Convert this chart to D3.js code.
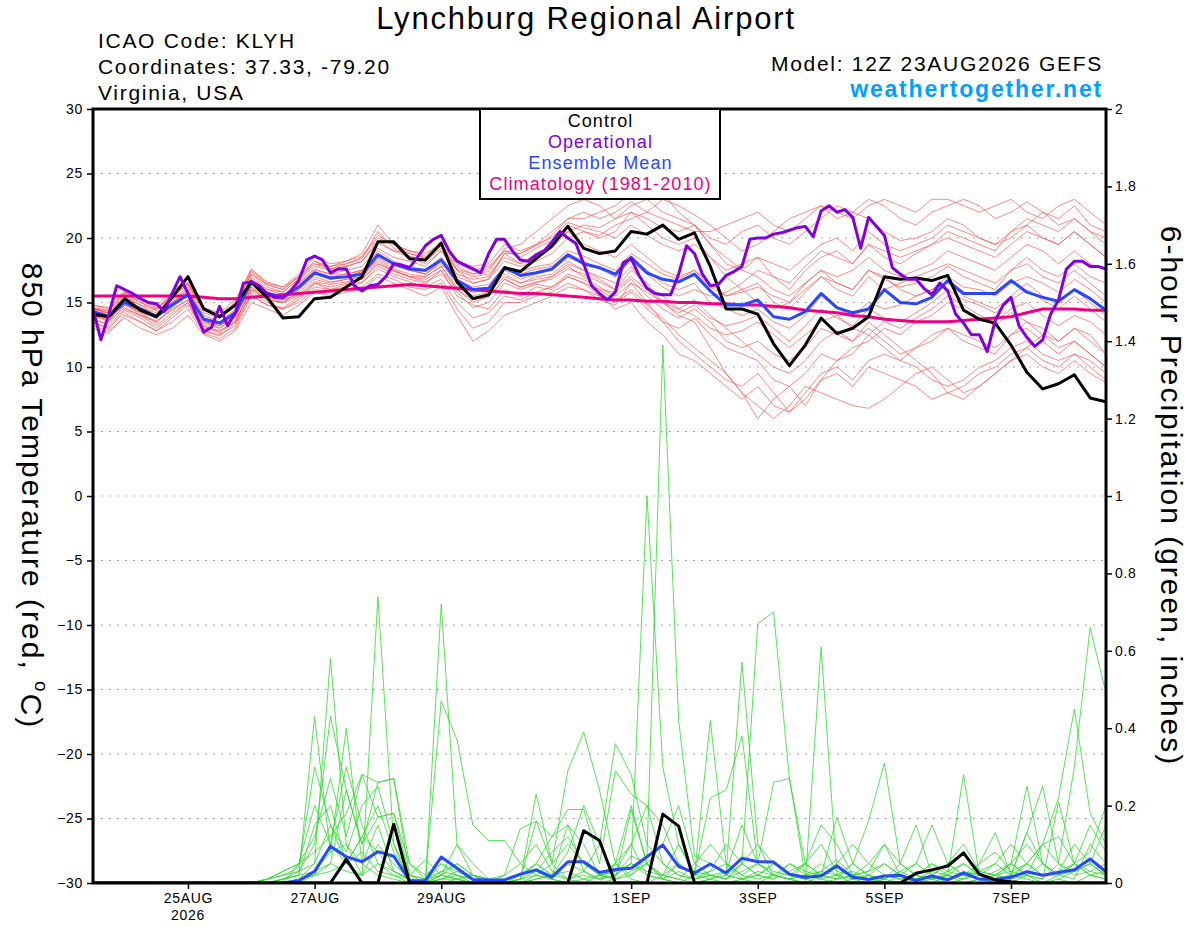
<!DOCTYPE html>
<html>
<head>
<meta charset="utf-8">
<script src="https://cdnjs.cloudflare.com/ajax/libs/d3/7.8.5/d3.min.js"></script>
<style>
  body { margin: 0; background: #fff; }
  svg { font-family: "Liberation Sans", Arial, sans-serif; }
</style>
</head>
<body>
<div id="chart"></div>
<script>
"use strict";

// == DATA ==
// 6-hourly steps from 12Z 23AUG2026 (65 points), operational run is 3-hourly (129 points)
var startTime = Date.UTC(2026, 7, 23, 12);
var endTime = Date.UTC(2026, 8, 8, 12);

var tickDates = [Date.UTC(2026, 7, 25), Date.UTC(2026, 7, 27), Date.UTC(2026, 7, 29),
                 Date.UTC(2026, 8, 1), Date.UTC(2026, 8, 3), Date.UTC(2026, 8, 5), Date.UTC(2026, 8, 7)];
var tickLabels = ["25AUG", "27AUG", "29AUG", "1SEP", "3SEP", "5SEP", "7SEP"];
var tempTicks = [-30, -25, -20, -15, -10, -5, 0, 5, 10, 15, 20, 25, 30];
var precipTicks = [0, 0.2, 0.4, 0.6, 0.8, 1, 1.2, 1.4, 1.6, 1.8, 2];

var control = [14.1,13.9,15.3,14.4,13.9,15.4,17.0,14.5,13.9,14.8,16.6,15.4,13.8,
  13.9,15.3,15.4,16.2,17.0,19.7,19.7,18.4,18.3,19.6,16.6,15.3,15.6,
  17.7,17.4,18.4,19.4,20.9,19.2,18.8,19.0,20.5,20.3,21.0,19.9,20.4,
  17.8,14.5,14.5,14.1,11.8,10.1,11.7,13.8,12.6,13.0,13.9,17.0,16.8,
  16.9,16.7,17.1,14.4,13.7,13.4,11.7,9.6,8.3,8.7,9.4,7.6,7.3];

var ensMean = [14.3,13.9,15.0,14.5,13.9,14.8,15.6,13.7,13.4,14.2,16.6,15.7,15.4,
  16.2,17.3,16.9,17.0,17.2,18.7,18.0,17.6,17.5,18.3,16.7,16.0,16.1,
  17.7,17.1,17.3,17.6,18.7,18.0,17.7,17.2,18.5,17.3,16.8,16.6,17.2,
  15.9,14.8,14.8,15.2,13.9,13.7,14.3,15.7,14.6,14.2,14.5,16.0,15.0,
  14.9,15.4,16.7,15.7,15.7,15.7,16.7,15.8,15.4,15.1,16.0,15.3,14.4];

var climatology = [15.5,15.5,15.5,15.5,15.5,15.5,15.5,15.4,15.3,15.3,15.4,15.5,15.6,
  15.7,15.8,15.9,16.0,16.1,16.2,16.3,16.4,16.3,16.2,16.1,16.0,15.9,
  15.8,15.7,15.7,15.6,15.5,15.4,15.3,15.2,15.2,15.1,15.1,15.0,15.0,
  14.9,14.9,14.8,14.8,14.7,14.6,14.4,14.3,14.2,14.0,13.9,13.7,13.6,
  13.5,13.5,13.5,13.6,13.7,13.8,13.9,14.2,14.5,14.5,14.5,14.4,14.4];

var operational = [14.5,12.1,14.1,16.3,16.0,15.7,15.3,15.0,14.9,14.3,15.7,17.0,15.7,14.1,12.7,13.1,
  14.7,13.2,14.2,16.5,16.6,16.3,15.7,15.4,15.4,15.9,16.7,18.3,18.6,18.3,17.3,17.6,
  17.6,16.3,15.9,16.3,16.4,17.0,18.0,17.9,17.7,18.5,19.4,19.9,20.2,19.0,18.2,17.9,
  17.6,17.3,18.8,19.9,19.9,19.0,18.3,18.2,18.7,19.0,19.7,20.5,20.0,19.6,18.0,16.3,
  15.7,15.2,15.8,18.1,18.4,17.1,16.1,15.7,15.6,15.6,17.2,19.4,18.8,17.2,16.3,16.4,
  17.1,17.4,17.8,19.9,20.0,20.0,20.3,20.4,20.6,20.8,20.9,20.1,22.1,22.5,22.0,22.2,
  21.6,19.2,21.6,20.9,20.2,17.7,17.2,16.8,16.8,16.1,15.6,16.5,15.9,14.1,13.4,12.5,
  12.5,11.2,13.6,14.8,15.4,13.2,12.3,11.6,12.1,14.1,15.2,17.6,18.2,18.2,17.8,17.8,
  17.6];

// ensemble members, 850 hPa temperature
var tempMember01 = [14.0,13.5,15.5,14.8,14.0,15.2,16.2,14.0,13.5,14.5,17.0,16.0,15.8,
  16.8,17.8,17.5,17.8,18.2,19.8,19.0,18.5,18.0,19.0,17.5,17.0,17.2,
  18.5,18.0,18.8,19.5,20.5,21.0,20.8,21.5,22.5,23.0,22.0,21.5,21.0,
  20.0,19.5,20.5,21.0,20.0,19.5,20.5,21.5,22.5,22.0,21.5,20.5,19.8,
  20.0,20.5,21.5,21.0,20.0,19.5,20.0,21.0,22.0,21.5,22.5,21.0,20.5];
var tempMember02 = [14.5,14.2,15.0,14.0,13.5,14.5,15.2,13.2,12.8,13.5,16.0,15.2,15.0,
  15.5,16.5,16.2,16.5,16.8,18.0,17.5,17.0,16.8,17.5,16.0,15.0,15.5,
  16.8,16.2,16.5,17.0,18.0,17.5,16.8,16.0,17.5,16.5,15.0,14.0,13.5,
  11.5,9.5,8.0,6.0,7.5,8.5,7.0,9.0,10.5,11.0,12.5,13.5,13.0,
  13.8,14.5,15.5,14.8,14.0,13.5,14.5,15.0,14.0,13.2,14.0,13.5,12.5];
var tempMember03 = [13.5,13.0,14.2,13.5,12.8,13.8,14.8,12.8,12.5,13.2,15.8,15.0,14.5,
  15.2,16.5,16.0,16.2,16.5,17.8,17.2,16.8,16.5,17.5,15.5,14.8,14.5,
  16.0,15.5,16.2,16.0,17.0,16.5,15.5,15.0,15.8,14.5,13.5,13.0,13.8,
  12.5,11.5,11.0,10.5,9.0,8.5,9.5,11.0,10.5,11.5,12.0,13.0,12.5,
  13.5,14.0,15.0,14.5,13.8,13.2,14.2,13.5,13.0,12.0,13.0,12.5,11.0];
var tempMember04 = [14.8,14.5,15.8,15.0,14.5,15.5,16.5,14.5,14.0,15.0,17.5,16.5,16.2,
  17.0,18.2,17.8,18.0,18.5,20.0,19.5,19.0,18.8,19.5,18.0,17.5,17.8,
  19.0,18.5,19.2,19.8,21.0,20.5,20.0,20.5,22.0,21.5,20.8,20.5,21.0,
  19.5,18.0,17.5,18.5,17.0,16.0,17.5,18.5,19.0,18.0,19.5,18.5,18.0,
  18.8,19.5,20.5,20.0,19.5,19.0,20.5,21.0,20.0,19.5,20.5,19.5,18.5];
var tempMember05 = [13.2,12.8,13.8,13.0,12.5,13.0,14.0,12.5,12.0,12.8,15.0,14.5,14.0,
  14.8,15.8,15.5,15.8,16.0,17.0,16.5,16.0,15.5,16.2,14.0,12.0,12.8,
  14.0,14.5,15.0,15.5,16.2,16.0,15.2,14.8,16.5,15.8,15.0,14.5,15.2,
  14.0,13.0,12.0,11.0,10.0,9.5,10.5,12.0,12.8,12.0,13.5,12.5,11.5,
  10.5,9.5,8.0,7.5,8.5,9.5,10.5,11.5,12.5,11.5,12.0,11.0,10.0];
var tempMember06 = [14.2,14.0,15.2,14.6,14.2,15.0,15.8,13.8,13.5,14.2,16.8,15.8,15.5,
  16.5,17.5,17.2,17.2,17.5,19.0,18.2,17.8,17.5,18.5,17.0,16.5,16.8,
  18.2,17.8,18.2,18.8,20.0,20.5,20.2,21.0,21.5,22.0,23.0,22.5,21.8,
  21.0,20.0,19.0,19.5,20.5,21.5,22.0,22.5,21.5,22.0,23.0,22.5,21.5,
  21.0,22.0,22.5,23.0,22.5,21.5,22.0,22.8,22.0,21.0,21.5,20.5,20.0];
var tempMember07 = [14.6,14.0,15.0,14.2,13.8,14.8,15.5,13.5,13.2,14.0,16.2,15.5,15.2,
  16.0,17.2,16.8,17.0,17.2,18.5,17.8,17.5,17.2,18.2,16.5,15.8,16.0,
  17.5,16.8,17.2,17.5,18.5,18.0,17.8,17.0,18.5,17.5,16.5,16.0,16.5,
  15.0,14.5,14.0,14.5,13.5,13.0,14.0,15.5,14.5,14.0,15.0,14.5,14.8,
  15.5,16.0,17.0,16.2,16.0,15.5,16.5,17.0,16.5,15.8,16.8,16.0,15.0];
var tempMember08 = [13.8,13.2,14.5,14.0,13.2,14.2,15.0,13.0,12.8,13.5,16.2,15.2,15.0,
  15.8,16.8,16.5,16.8,17.0,18.2,17.5,17.0,17.0,17.8,16.2,15.5,15.8,
  17.0,16.5,17.0,17.2,18.2,17.5,17.0,16.5,17.8,16.2,15.5,14.5,14.0,
  13.0,12.5,12.8,13.5,12.5,11.5,12.5,13.5,14.0,13.0,12.5,11.5,10.5,
  10.0,9.0,8.5,9.0,10.0,10.5,11.5,12.0,11.0,10.5,11.0,10.0,9.0];
var tempMember09 = [14.4,14.4,15.6,15.2,14.6,15.4,16.4,14.2,13.8,14.8,17.2,16.2,15.8,
  16.8,18.0,17.8,18.2,18.8,21.0,19.5,18.8,18.5,19.5,17.5,16.5,16.8,
  18.8,18.0,18.5,19.2,20.5,19.5,19.0,18.5,19.5,18.5,17.5,17.0,17.5,
  16.5,15.5,16.0,16.5,15.0,14.5,15.8,17.0,16.0,15.5,17.0,16.0,16.5,
  17.0,17.5,18.0,17.5,17.0,16.5,17.5,18.5,17.5,17.0,18.0,17.0,16.5];
var tempMember10 = [13.0,12.6,14.0,13.5,12.8,13.5,14.5,12.6,12.2,13.0,15.5,14.8,14.5,
  15.0,16.0,15.8,16.0,16.2,17.2,16.8,16.2,16.0,16.5,14.5,13.0,13.5,
  15.0,15.0,15.5,15.8,16.5,16.0,15.5,14.5,15.0,13.5,12.5,11.0,10.5,
  9.5,8.5,7.5,8.5,7.0,6.5,8.0,9.5,10.0,9.0,10.5,11.0,10.5,
  11.5,12.5,13.0,12.0,11.5,11.0,12.5,13.0,12.0,11.0,12.0,11.0,10.0];
var tempMember11 = [14.0,13.8,15.4,14.6,14.0,15.0,16.0,13.8,13.4,14.4,16.8,16.0,15.6,
  16.6,17.6,17.2,17.5,17.8,19.2,18.5,18.2,17.8,19.0,17.2,16.8,17.0,
  18.8,18.8,19.5,20.5,21.5,21.5,22.0,22.5,23.5,23.0,23.5,22.0,21.0,
  19.5,18.5,17.5,17.0,16.0,15.5,16.5,17.5,17.0,17.5,18.5,17.5,17.0,
  17.5,18.0,19.0,18.5,18.0,17.5,18.5,19.5,19.0,18.0,19.0,18.0,17.5];
var tempMember12 = [14.2,13.6,14.6,14.0,13.6,14.4,15.2,13.4,13.0,13.8,16.4,15.4,15.0,
  16.0,17.0,16.6,16.8,17.0,18.4,17.6,17.2,17.0,17.8,16.0,15.2,15.4,
  16.8,16.2,16.6,16.8,17.6,17.2,16.6,16.0,17.0,16.0,15.0,14.2,14.8,
  13.8,13.2,13.5,14.0,13.0,12.0,13.2,14.5,13.8,13.2,14.5,13.8,13.5,
  14.2,15.0,16.0,15.2,14.8,14.2,15.2,16.0,15.2,14.5,15.5,14.5,13.5];
var tempMember13 = [14.6,14.2,15.4,14.8,14.4,15.2,16.0,13.6,13.0,14.0,16.5,15.8,15.5,
  16.2,17.2,17.0,17.2,17.5,18.8,18.0,17.5,17.2,18.0,16.5,15.8,16.0,
  17.2,16.5,16.8,17.0,17.8,17.0,16.2,15.5,16.5,15.0,13.5,12.0,11.0,
  10.0,9.0,8.5,9.5,8.0,6.5,7.5,9.0,9.5,8.5,10.0,9.5,9.0,
  8.5,7.5,8.0,8.5,9.5,10.0,11.0,11.5,10.5,10.0,11.0,10.5,9.5];
var tempMember14 = [14.8,14.6,16.0,15.2,14.8,15.8,16.8,14.6,14.2,15.2,17.6,16.6,16.2,
  17.2,18.5,18.0,18.2,18.6,20.2,19.5,19.0,18.6,19.8,18.2,17.8,18.0,
  19.5,19.0,19.5,20.0,21.2,20.8,20.5,20.0,21.0,20.2,19.5,19.0,19.5,
  18.5,17.5,18.0,18.5,18.0,17.5,18.5,19.5,20.0,19.0,20.5,19.5,19.0,
  19.5,20.0,21.0,20.5,20.0,19.5,20.5,21.5,21.0,20.5,21.5,20.5,19.5];
var tempMember15 = [13.6,13.4,14.8,14.2,13.4,14.6,15.6,13.2,12.6,13.6,16.0,15.4,15.2,
  15.6,16.6,16.4,16.6,16.8,18.0,17.4,17.0,16.6,17.2,15.8,14.6,15.0,
  16.5,16.0,16.4,16.2,17.2,16.8,16.0,15.2,16.0,14.8,13.8,12.5,11.5,
  10.5,9.5,8.0,7.0,6.0,7.0,8.5,8.0,7.5,7.0,6.8,7.5,8.5,
  9.5,10.0,9.0,8.0,8.5,9.5,10.5,11.0,10.0,9.5,10.5,9.5,8.8];
var tempMember16 = [14.2,14.2,15.6,15.0,14.4,15.6,16.6,14.4,14.0,15.0,17.4,16.4,16.0,
  17.0,18.2,17.6,17.8,18.2,19.6,19.0,18.8,18.4,19.4,17.8,17.2,17.6,
  19.0,18.8,19.4,20.2,21.5,22.0,21.5,22.0,22.8,22.0,21.5,21.0,20.5,
  20.5,21.0,21.5,22.0,21.0,20.5,21.5,22.5,22.0,21.5,22.5,23.0,22.5,
  22.0,23.0,23.0,22.5,22.0,22.5,23.0,22.0,21.5,22.5,23.0,22.0,21.0];
var tempMember17 = [14.4,13.8,14.8,14.4,13.8,15.0,15.8,13.8,13.4,14.2,16.6,15.6,15.4,
  16.4,17.4,17.0,17.0,17.4,18.6,18.0,17.6,17.4,18.4,16.8,16.2,16.4,
  17.8,17.4,17.8,18.0,19.0,18.6,18.0,17.5,18.8,18.0,17.2,16.8,17.5,
  16.2,15.5,15.8,16.2,15.5,15.0,16.5,17.5,16.5,16.0,17.5,16.8,16.2,
  16.5,17.0,17.8,17.0,16.5,16.0,17.5,18.0,17.0,16.5,17.5,16.5,15.5];
var tempMember18 = [13.4,13.0,14.4,13.8,13.0,14.0,15.0,12.8,12.4,13.4,15.6,14.8,14.6,
  15.4,16.2,16.0,16.4,16.6,17.6,17.0,16.6,16.2,16.8,15.0,13.8,14.2,
  15.5,15.2,15.8,16.2,17.0,16.5,16.0,15.8,16.8,15.5,14.5,13.8,14.5,
  13.5,12.0,11.5,12.0,11.0,10.5,11.5,13.0,12.5,12.0,13.0,12.0,11.0,
  11.5,12.0,13.0,12.5,12.0,11.5,12.5,13.5,12.5,12.0,13.0,12.0,11.0];
var tempMember19 = [14.6,14.4,15.8,15.4,14.6,15.6,16.4,14.4,13.8,14.8,17.2,16.4,16.0,
  17.0,18.0,17.6,18.0,18.4,20.5,19.2,18.6,18.2,19.2,17.6,17.2,17.4,
  19.2,19.5,20.5,21.5,22.5,23.0,22.5,21.5,22.0,21.0,20.0,19.5,20.0,
  18.5,17.0,16.0,15.0,14.5,15.0,16.0,17.0,16.5,16.0,17.5,17.0,16.0,
  15.5,16.0,16.5,15.5,15.0,14.5,15.5,16.5,15.5,15.0,16.0,15.0,14.0];
var tempMember20 = [14.0,13.6,15.0,14.4,13.8,14.8,15.8,13.6,13.2,14.0,16.4,15.6,15.2,
  16.2,17.2,16.8,17.0,17.4,18.8,18.0,17.6,17.2,18.2,16.6,16.0,16.2,
  17.6,17.2,17.6,17.8,18.8,18.2,17.6,17.0,18.2,17.2,16.2,15.5,16.0,
  15.5,15.8,16.5,17.5,17.0,16.5,17.8,19.0,18.5,18.0,19.5,19.0,18.5,
  19.0,19.5,20.0,19.5,19.0,18.5,19.5,20.5,20.0,19.5,20.5,19.5,18.5];

// 6-hour precipitation (inches)
var precipControl = [0,0,0,0,0,0,0,0,0,0,0,0,0,
  0,0,0,0.061,0,0,0.152,0,0,0,0,0,0,
  0,0,0,0,0,0.135,0.11,0,0,0,0.178,0.147,0,
  0,0,0,0,0,0,0,0,0,0,0,0,0,
  0.025,0.034,0.044,0.078,0.023,0.008,0.003,0,0,0,0,0,0];
var precipMean = [0,0,0,0,0,0,0,0,0,0,0,0,0,
  0.006,0.03,0.095,0.068,0.055,0.081,0.069,0.006,0.006,0.067,0.038,0.009,0.008,
  0.008,0.023,0.034,0.015,0.055,0.055,0.027,0.035,0.038,0.068,0.098,0.043,0.026,
  0.049,0.026,0.064,0.055,0.054,0.023,0.015,0.018,0.044,0.015,0.009,0.018,0.020,
  0.006,0.018,0.008,0.026,0.010,0.010,0.015,0.029,0.020,0.027,0.034,0.062,0.029];

var precipMember01 = [0,0,0,0,0,0,0,0,0,0,0,0,0.01,
  0.02,0.43,0.08,0.40,0.05,0.02,0.01,0,0,0.02,0.10,0.02,0,
  0,0.01,0.03,0.01,0,0,0.02,0.05,0.01,0,0.02,0.05,0.02,
  0.42,0.05,0.01,0,0.02,0.01,0,0.02,0.05,0.01,0,0.01,0.03,
  0.01,0,0.02,0.28,0.02,0,0.01,0.02,0,0.01,0.03,0.05,0.02];
var precipMember02 = [0,0,0,0,0,0,0,0,0,0,0,0,0,
  0.01,0.05,0.58,0.10,0.02,0.74,0.10,0,0,0.05,0.02,0,0,
  0,0,0.01,0.02,0.03,0.01,0,0.05,0.20,0.05,0.01,0,0,
  0.01,0.03,0.57,0.10,0.02,0.01,0,0.61,0.02,0,0,0.01,0,
  0,0.01,0.02,0,0.01,0,0,0.02,0.01,0.05,0.30,0.66,0.49];
var precipMember03 = [0,0,0,0,0,0,0,0,0,0,0,0,0.01,
  0.03,0.10,0.43,0.24,0.10,0.26,0.27,0.02,0,0.72,0.10,0.05,0.01,
  0,0.01,0.23,0.05,0.01,0,0,0.01,0.02,0.05,0.10,0.20,0.05,
  0.02,0.01,0.05,0.67,0.70,0.27,0.02,0.01,0,0.01,0.02,0,0,
  0.01,0.02,0,0,0.01,0.03,0.05,0.25,0.05,0.01,0,0.02,0.01];
var precipMember04 = [0,0,0,0,0,0,0,0,0,0,0,0.01,0.03,
  0.05,0.12,0.27,0.12,0.28,0.17,0.18,0.05,0.01,0.47,0.37,0.15,0.11,
  0.11,0.05,0.02,0.01,0,0.01,0.02,0.03,0.05,1.00,0.30,0.10,0.02,
  0.01,0,0.01,0.02,0.05,0.02,0.01,0.03,0.02,0.05,0.16,0.31,0.05,
  0.02,0.01,0.03,0.05,0.02,0.01,0.02,0.05,0.10,0.22,0.45,0.18,0.10];
var precipMember05 = [0,0,0,0,0,0,0,0,0,0,0,0.01,0.02,
  0.03,0.05,0.15,0.08,0.20,0.25,0.10,0.02,0.06,0.02,0.01,0,0,
  0.02,0.14,0.16,0.05,0.29,0.39,0.24,0.05,0.02,0.07,1.39,0.42,0.07,
  0.05,0.02,0.01,0.03,0.02,0.01,0.05,0.15,0.10,0.02,0.01,0,0.02,
  0.01,0.03,0.02,0.01,0.05,0.13,0.02,0.01,0,0.02,0.05,0.03,0.02];
var precipMember06 = [0,0,0,0,0,0,0,0,0,0,0,0,0,
  0.05,0.08,0.12,0.18,0.28,0.26,0.27,0.05,0.02,0.05,0.03,0.01,0,
  0.01,0.02,0.05,0.02,0.01,0.03,0.10,0.36,0.28,0.10,0.05,0.02,0.01,
  0.03,0.05,0.02,0.01,0.02,0.05,0.03,0.02,0.17,0.05,0.02,0.01,0.05,
  0.15,0.02,0.01,0.02,0.03,0.05,0.02,0.13,0.05,0.02,0.03,0.05,0.02];
var precipMember07 = [0,0,0,0,0,0,0,0,0,0,0,0,0.01,
  0.02,0.03,0.05,0.24,0.10,0.17,0.18,0.02,0.01,0.02,0.05,0.02,0.01,
  0,0.01,0.16,0.12,0.19,0.19,0.05,0.29,0.23,0.20,0.15,0.05,0.02,
  0.22,0.24,0.38,0.05,0.02,0.01,0.02,0.01,0.02,0.03,0.01,0.02,0.01,
  0.02,0.01,0.02,0.05,0.02,0.01,0.05,0.02,0.01,0.21,0.05,0.02,0.03];
var precipMember08 = [0,0,0,0,0,0,0,0,0,0,0,0,0,
  0.01,0.02,0.05,0.03,0.02,0.10,0.05,0.01,0,0.01,0.03,0.02,0,
  0,0.02,0.05,0.12,0.15,0.10,0.02,0.01,0.19,0.05,0.02,0.01,0.05,
  0.10,0.05,0.02,0.05,0.26,0.27,0.05,0.02,0.01,0.02,0.03,0.05,0.02,
  0.05,0.15,0.05,0.02,0.01,0.02,0.03,0.05,0.10,0.12,0.05,0.02,0.01];
var precipMember09 = [0,0,0,0,0,0,0,0,0,0,0,0,0,
  0,0.02,0.10,0.05,0.02,0.05,0.02,0,0,0.02,0.01,0,0,
  0,0,0.01,0.02,0.15,0.03,0.01,0.02,0.07,0.05,0.01,0,0.02,
  0.05,0.02,0.01,0.02,0.05,0.02,0.01,0,0.01,0.02,0.03,0.10,0.05,
  0.02,0.01,0,0.01,0.02,0.01,0.02,0.13,0.25,0.05,0.02,0.03,0.05];
var precipMember10 = [0,0,0,0,0,0,0,0,0,0,0,0,0,
  0.01,0.02,0.03,0.05,0.08,0.03,0.02,0.01,0,0,0.01,0.02,0.01,
  0.02,0.05,0.10,0.03,0.01,0.02,0.01,0.05,0.10,0.20,0.05,0.02,0.01,
  0.02,0.03,0.15,0.05,0.03,0.02,0.05,0.10,0.03,0.02,0.05,0.10,0.02,
  0.01,0.02,0.05,0.10,0.03,0.02,0.01,0.05,0.02,0.03,0.10,0.05,0.15];
var precipMember11 = [0,0,0,0,0,0,0,0,0,0,0,0.01,0.02,
  0.04,0.30,0.15,0.05,0.12,0.08,0.03,0.01,0,0.03,0.02,0.01,0,
  0,0.01,0.02,0.01,0.05,0.03,0.01,0.02,0.05,0.02,0.01,0.03,0.01,
  0.02,0.01,0.05,0.02,0.01,0.05,0.02,0.03,0.06,0.02,0.01,0.02,0.01,
  0.02,0.05,0.02,0.01,0.03,0.02,0.05,0.10,0.05,0.02,0.05,0.15,0.08];
var precipMember12 = [0,0,0,0,0,0,0,0,0,0,0,0.01,0.03,
  0.05,0.20,0.10,0.30,0.15,0.05,0.03,0.01,0,0.01,0.02,0.01,0,
  0,0,0.02,0.05,0.10,0.05,0.02,0.01,0.03,0.05,0.02,0.01,0,
  0.01,0.02,0.05,0.10,0.05,0.02,0.01,0.02,0.05,0.10,0.05,0.02,0.01,
  0.02,0.05,0.03,0.02,0.05,0.08,0.03,0.02,0.05,0.02,0.01,0.10,0.05];
var precipMember13 = [0,0,0,0,0,0,0,0,0,0,0,0,0.01,
  0.02,0.15,0.20,0.05,0.12,0.20,0.08,0.02,0.01,0.03,0.05,0.02,0.01,
  0.01,0.02,0.03,0.08,0.12,0.05,0.02,0.03,0.10,0.02,0.01,0.05,0.02,
  0.03,0.10,0.05,0.02,0.01,0.03,0.05,0.02,0.01,0.05,0.02,0.01,0.03,
  0.05,0.02,0.01,0.03,0.02,0.05,0.10,0.05,0.02,0.03,0.05,0.08,0.20];
var precipMember14 = [0,0,0,0,0,0,0,0,0,0,0,0,0,
  0.01,0.03,0.08,0.10,0.05,0.15,0.03,0.01,0,0.01,0.01,0,0,
  0,0.01,0.05,0.02,0.08,0.20,0.10,0.02,0.05,0.03,0.02,0.10,0.03,
  0.02,0.01,0.03,0.05,0.02,0.01,0.02,0.05,0.02,0.01,0.02,0.05,0.02,
  0.01,0.02,0.05,0.02,0.01,0.02,0.05,0.02,0.10,0.05,0.03,0.05,0.02];

var tempMembers = [tempMember01, tempMember02, tempMember03, tempMember04, tempMember05,
  tempMember06, tempMember07, tempMember08, tempMember09, tempMember10, tempMember11,
  tempMember12, tempMember13, tempMember14, tempMember15, tempMember16, tempMember17,
  tempMember18, tempMember19, tempMember20];
var precipMembers = [precipMember01, precipMember02, precipMember03, precipMember04,
  precipMember05, precipMember06, precipMember07, precipMember08, precipMember09,
  precipMember10, precipMember11, precipMember12, precipMember13, precipMember14];

var legendItems = [
  { label: "Control", color: "#000000" },
  { label: "Operational", color: "#8000e0" },
  { label: "Ensemble Mean", color: "#2848ff" },
  { label: "Climatology (1981-2010)", color: "#f00080" }
];

// == BOILERPLATE ==
var margin = { top: 109, right: 94, bottom: 44, left: 93 },
    width = 1013,
    height = 774;

var svg = d3.select("#chart")
            .append("svg")
            .attr("width", width + margin.left + margin.right)
            .attr("height", height + margin.top + margin.bottom);

var g = svg.append("g")
           .attr("transform", "translate(" + margin.left + "," + margin.top + ")");

var x = d3.scaleUtc().domain([startTime, endTime]).range([0, width]);
var yTemp = d3.scaleLinear().domain([-30, 30]).range([height, 0]);
var yPrecip = d3.scaleLinear().domain([0, 2]).range([height, 0]);

var sixHours = 6 * 3600 * 1000;
var timeAt = function(step) { return function(d, i) { return x(startTime + i * step); }; };

var tempLine = d3.line().x(timeAt(sixHours)).y(function(d) { return yTemp(d); });
var opLine = d3.line().x(timeAt(sixHours / 2)).y(function(d) { return yTemp(d); });
var precipLine = d3.line().x(timeAt(sixHours)).y(function(d) { return yPrecip(d); });

svg.append("defs").append("clipPath").attr("id", "plotclip")
   .append("rect").attr("width", width).attr("height", height);

// dotted grid lines at temperature ticks
g.selectAll(".grid")
 .data(tempTicks.slice(1, -1))
 .enter()
 .append("line")
 .attr("class", "grid")
 .attr("x1", 0).attr("x2", width)
 .attr("y1", function(d) { return yTemp(d); })
 .attr("y2", function(d) { return yTemp(d); })
 .attr("stroke", "#a8a8a8")
 .attr("stroke-width", 1.2)
 .attr("stroke-dasharray", "2,6");

var plot = g.append("g").attr("clip-path", "url(#plotclip)");

plot.selectAll(".tmember")
    .data(tempMembers)
    .enter()
    .append("path")
    .attr("d", tempLine)
    .attr("fill", "none")
    .attr("stroke", "#ff4545")
    .attr("stroke-opacity", 0.85)
    .attr("stroke-width", 0.75);

plot.selectAll(".pmember")
    .data(precipMembers)
    .enter()
    .append("path")
    .attr("d", precipLine)
    .attr("fill", "none")
    .attr("stroke", "#2ed82e")
    .attr("stroke-width", 0.8);

var drawThick = function(data, gen, color) {
  plot.append("path")
      .datum(data)
      .attr("d", gen)
      .attr("fill", "none")
      .attr("stroke", color)
      .attr("stroke-width", 3)
      .attr("stroke-linejoin", "round");
};

drawThick(climatology, tempLine, "#f00080");
drawThick(precipMean, precipLine, "#2848ff");
drawThick(precipControl, precipLine, "#000000");
drawThick(ensMean, tempLine, "#2848ff");
drawThick(control, tempLine, "#000000");
drawThick(operational, opLine, "#8000e0");

// == AXES ==
var leftAxis = g.append("g")
  .call(d3.axisLeft(yTemp).tickValues(tempTicks).tickSize(6).tickPadding(4));
var rightAxis = g.append("g")
  .attr("transform", "translate(" + width + ",0)")
  .call(d3.axisRight(yPrecip).tickValues(precipTicks).tickSize(6).tickPadding(3)
          .tickFormat(function(d) { return String(+d.toFixed(1)); }));
var bottomAxis = g.append("g")
  .attr("transform", "translate(0," + height + ")")
  .call(d3.axisBottom(x).tickValues(tickDates).tickSize(6).tickPadding(4)
          .tickFormat(function(d, i) { return tickLabels[i]; }));

[leftAxis, rightAxis, bottomAxis].forEach(function(a) {
  a.select(".domain").remove();
  a.selectAll(".tick line").attr("stroke", "#000").attr("stroke-width", 1.5);
  a.selectAll(".tick text").attr("font-size", 14).attr("fill", "#000")
   .attr("letter-spacing", "0.7px")
   .attr("font-family", "'Liberation Sans', Arial, sans-serif");
});

bottomAxis.append("text")
  .attr("x", x(tickDates[0]))
  .attr("y", 37)
  .attr("text-anchor", "middle")
  .attr("font-size", 14)
  .attr("letter-spacing", "0.7px")
  .attr("fill", "#000")
  .text("2026");

// plot frame
g.append("rect")
 .attr("width", width).attr("height", height)
 .attr("fill", "none").attr("stroke", "#000").attr("stroke-width", 3);

// == LEGEND ==
var legend = g.append("g").attr("transform", "translate(" + (480 - margin.left) + ",0)");
legend.append("rect")
      .attr("width", 240).attr("height", 90)
      .attr("fill", "#fff").attr("stroke", "#000").attr("stroke-width", 2);
legend.selectAll(".legtext")
      .data(legendItems)
      .enter()
      .append("text")
      .attr("x", 120.5)
      .attr("y", function(d, i) { return 18 + i * 21; })
      .attr("text-anchor", "middle")
      .attr("font-size", 18)
      .attr("letter-spacing", "1.1px")
      .attr("fill", function(d) { return d.color; })
      .text(function(d) { return d.label; });

// == TITLES ==
svg.append("text").attr("x", 586).attr("y", 29).attr("text-anchor", "middle")
   .attr("font-size", 31).attr("letter-spacing", "1.8px")
   .text("Lynchburg Regional Airport");

var info = ["ICAO Code: KLYH", "Coordinates: 37.33, -79.20", "Virginia, USA"];
svg.selectAll(".info").data(info).enter().append("text")
   .attr("x", 98).attr("y", function(d, i) { return 48 + i * 26; })
   .attr("font-size", 21).attr("letter-spacing", "1.7px")
   .text(function(d) { return d; });

svg.append("text").attr("x", 1103).attr("y", 71).attr("text-anchor", "end")
   .attr("font-size", 21).attr("letter-spacing", "1.7px")
   .text("Model: 12Z 23AUG2026 GEFS");
svg.append("text").attr("x", 1103).attr("y", 97).attr("text-anchor", "end")
   .attr("font-size", 23).attr("font-weight", "bold").attr("fill", "#00a0ff")
   .attr("letter-spacing", "1.8px")
   .text("weathertogether.net");

var leftTitle = svg.append("text")
   .attr("transform", "translate(32,496) rotate(90)")
   .attr("text-anchor", "middle").attr("dy", "0.35em")
   .attr("font-size", 30).attr("letter-spacing", "2px");
leftTitle.append("tspan").text("850 hPa Temperature (red, ");
leftTitle.append("tspan").attr("font-size", 19).attr("dy", "-0.7em").text("o");
leftTitle.append("tspan").attr("dy", "0.45em").text("C)");

svg.append("text")
   .attr("transform", "translate(1171,496) rotate(90)")
   .attr("text-anchor", "middle").attr("dy", "0.35em")
   .attr("font-size", 30).attr("letter-spacing", "2px")
   .text("6-hour Precipitation (green, inches)");
</script>
</body>
</html>
